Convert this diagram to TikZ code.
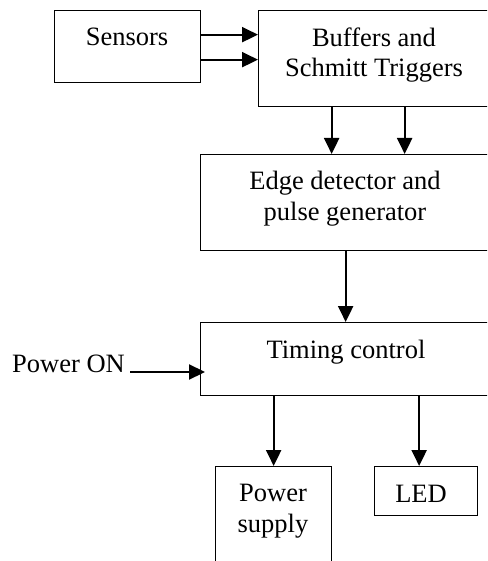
\documentclass[tikz,border=0pt]{standalone}
\usepackage{fontspec}
\setmainfont{Liberation Serif}
\usetikzlibrary{arrows.meta}
\begin{document}
\begin{tikzpicture}[x=1pt,y=-1pt,
  box/.style={draw, line width=1.3pt, inner sep=0pt, anchor=north west},
  lbl/.style={inner sep=0pt, align=center, font=\fontsize{26.5}{30.5}\selectfont},
  arr/.style={line width=2.2pt, -{Triangle[length=16pt,width=15pt]}}]
\path[use as bounding box, clip] (0,0) rectangle (487,561);
% boxes
\node[box, minimum width=146pt, minimum height=72pt] (sens) at (54,10) {};
\node[box, minimum width=232pt, minimum height=96pt] (buf) at (258,10) {};
\node[box, minimum width=290pt, minimum height=96pt] (edge) at (200,154) {};
\node[box, minimum width=290pt, minimum height=73pt] (tim) at (200,322) {};
\node[box, minimum width=116pt, minimum height=120pt] (ps) at (215,466) {};
\node[box, minimum width=103pt, minimum height=49pt] (led) at (374,466) {};
% labels
\node[lbl, anchor=base] (sensT) at (127,46) {Sensors};
\node[lbl] (bufT) at (374,55.1) {Buffers and\\Schmitt Triggers};
\node[lbl] (edgeT) at (345,198.9) {Edge detector and\\pulse generator};
\node[lbl, anchor=base] (timT) at (346,358) {Timing control};
\node[lbl, anchor=base west, inner xsep=0pt] (pon) at (12,372) {Power ON};
\node[lbl] (psT) at (273,511.1) {Power\\supply};
\node[lbl, anchor=base] (ledT) at (421,502) {LED};
% connectors
\draw[arr] ([yshift=12pt]sens.east) -- ([yshift=12pt]sens.east -| buf.west);
\draw[arr] ([yshift=-13pt]sens.east) -- ([yshift=-13pt]sens.east -| buf.west);
\draw[arr] ([xshift=-43pt]buf.south) -- ([xshift=-43pt]buf.south |- edge.north);
\draw[arr] ([xshift=30pt]buf.south) -- ([xshift=30pt]buf.south |- edge.north);
\draw[arr] (edge.south) -- (tim.north);
\draw[arr] ([xshift=5pt]pon.base east) -- ([xshift=5pt]pon.base east -| tim.west);
\draw[arr] (ps.north |- tim.south) -- (ps.north);
\draw[arr] ([xshift=-7pt]led.north |- tim.south) -- ([xshift=-7pt]led.north);
\end{tikzpicture}
\end{document}
